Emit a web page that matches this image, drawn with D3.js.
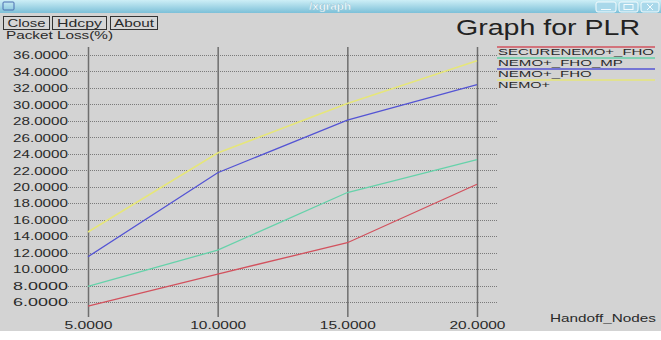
<!DOCTYPE html>
<html>
<head>
<meta charset="utf-8">
<script src="https://cdn.jsdelivr.net/npm/d3@7"></script>
<style>
  html, body { margin: 0; padding: 0; background: #fff; }
  svg { display: block; font-family: "Liberation Sans", Arial, sans-serif; }
</style>
</head>
<body>
<svg id="chart" width="661" height="340"></svg>
<script>
// Data
const nodes = [5, 10, 15, 20];
const secureNemoFho = [5.5, 9.4, 13.2, 20.3];
const nemoFhoMp = [7.9, 12.3, 19.3, 23.3];
const nemoFho = [11.5, 21.7, 28.1, 32.4];
const nemoPlus = [14.5, 24.1, 30.1, 35.3];

const seriesNames = ["SECURENEMO+_FHO", "NEMO+_FHO_MP", "NEMO+_FHO", "NEMO+"];
const seriesValues = [secureNemoFho, nemoFhoMp, nemoFho, nemoPlus];
const seriesColors = ["#d2525e", "#66d2aa", "#5454d4", "#e6e67a"];

const yTicks = [6, 8, 10, 12, 14, 16, 18, 20, 22, 24, 26, 28, 30, 32, 34, 36];
const xTicks = [5, 10, 15, 20];

const svg = d3.select("#chart");

// window background
svg.append("rect").attr("width", 661).attr("height", 340).attr("fill", "#ffffff");
svg.append("rect").attr("width", 661).attr("height", 331).attr("fill", "#d3d3d3");

// title bar
const defs = svg.append("defs");
const grad = defs.append("linearGradient").attr("id", "tbar").attr("x1", 0).attr("y1", 0).attr("x2", 0).attr("y2", 1);
grad.append("stop").attr("offset", "0%").attr("stop-color", "#cdeef6");
grad.append("stop").attr("offset", "100%").attr("stop-color", "#7cc0d8");
svg.append("rect").attr("x", 0).attr("y", 0).attr("width", 661).attr("height", 13).attr("fill", "url(#tbar)");
svg.append("rect").attr("x", 3).attr("y", 2).attr("width", 11).attr("height", 8)
  .attr("rx", 1).attr("fill", "none").attr("stroke", "#4a6fb0").attr("stroke-width", 1);
svg.append("text").attr("x", 330).attr("y", 10).attr("text-anchor", "middle")
  .attr("font-size", 10).attr("font-weight", "bold").attr("fill", "#ffffff")
  .attr("stroke", "#8fc4d6").attr("stroke-width", 0.4)
  .attr("textLength", 42).attr("lengthAdjust", "spacingAndGlyphs").text("/xgraph");
[[596, 20], [619, 19], [641, 18]].forEach(([x, w], i) => {
  svg.append("rect").attr("x", x).attr("y", 2).attr("width", w).attr("height", 10).attr("rx", 2)
    .attr("fill", "#a9d8ea").attr("stroke", "#f4fbfd").attr("stroke-width", 1);
  if (i === 0) svg.append("line").attr("x1", x + 5).attr("x2", x + w - 5).attr("y1", 9.5).attr("y2", 9.5).attr("stroke", "#f4fbfd");
  if (i === 1) svg.append("rect").attr("x", x + 5).attr("y", 4.5).attr("width", w - 10).attr("height", 5).attr("fill", "none").attr("stroke", "#f4fbfd");
  if (i === 2) {
    svg.append("line").attr("x1", x + 6).attr("x2", x + w - 6).attr("y1", 4).attr("y2", 10).attr("stroke", "#f4fbfd");
    svg.append("line").attr("x1", x + w - 6).attr("x2", x + 6).attr("y1", 4).attr("y2", 10).attr("stroke", "#f4fbfd");
  }
});

// buttons
const buttons = [
  { label: "Close", x: 3, w: 46, tl: 38 },
  { label: "Hdcpy", x: 52, w: 54, tl: 45 },
  { label: "About", x: 110, w: 47, tl: 40 },
];
buttons.forEach(b => {
  svg.append("rect").attr("x", b.x + 0.5).attr("y", 16.5).attr("width", b.w).attr("height", 13)
    .attr("fill", "#d6d6d6").attr("stroke", "#333").attr("stroke-width", 1);
  svg.append("text").attr("x", b.x + b.w / 2 + 0.5).attr("y", 27).attr("text-anchor", "middle")
    .attr("font-size", 10.5).attr("fill", "#2a2a2a")
    .attr("textLength", b.tl).attr("lengthAdjust", "spacingAndGlyphs").text(b.label);
});

// titles
svg.append("text").attr("x", 456).attr("y", 35).attr("font-size", 22).attr("fill", "#222")
  .attr("textLength", 184).attr("lengthAdjust", "spacingAndGlyphs").text("Graph for PLR");
svg.append("text").attr("x", 6).attr("y", 39).attr("font-size", 10.5).attr("fill", "#2a2a2a")
  .attr("textLength", 107).attr("lengthAdjust", "spacingAndGlyphs").text("Packet Loss(%)");
svg.append("text").attr("x", 550).attr("y", 322).attr("font-size", 10.5).attr("fill", "#2a2a2a")
  .attr("textLength", 106).attr("lengthAdjust", "spacingAndGlyphs").text("Handoff_Nodes");

// scales
const xScale = d3.scaleLinear().domain([5, 20]).range([88, 477]);
const yScale = d3.scaleLinear().domain([6, 36]).range([302, 55]);
const gridLeft = 68, gridRight = 497, gridTop = 47, gridBottom = 317;

const fmt = d3.format(".4f");

// horizontal dotted grid + y labels
const yAxis = d3.axisLeft(yScale).tickValues(yTicks).tickSize(-(gridRight - gridLeft)).tickFormat(fmt).tickPadding(0);
const gy = svg.append("g").attr("transform", `translate(${gridLeft},0)`).call(yAxis);
gy.select(".domain").remove();
gy.selectAll(".tick line").attr("stroke", "#7a7a7a").attr("stroke-dasharray", "1 1").attr("shape-rendering", "crispEdges");
gy.selectAll(".tick text").attr("x", 0).attr("dy", "0.36em").attr("font-size", 10.5).attr("fill", "#2a2a2a")
  .attr("font-family", "Liberation Sans, Arial, sans-serif")
  .attr("textLength", 55).attr("lengthAdjust", "spacingAndGlyphs");

// vertical solid grid + x labels
const xAxis = d3.axisBottom(xScale).tickValues(xTicks).tickSize(-(gridBottom - gridTop)).tickFormat(fmt).tickPadding(0);
const gx = svg.append("g").attr("transform", `translate(0,${gridBottom})`).call(xAxis);
gx.select(".domain").remove();
gx.selectAll(".tick line").attr("stroke", "#6e6e6e").attr("stroke-width", 1.5);
gx.selectAll(".tick text").attr("y", 12).attr("dy", 0).attr("font-size", 10.5).attr("fill", "#2a2a2a")
  .attr("font-family", "Liberation Sans, Arial, sans-serif")
  .attr("textLength", d => fmt(d).length * 8).attr("lengthAdjust", "spacingAndGlyphs");

// data lines
const line = d3.line().x((d, i) => xScale(nodes[i])).y(d => yScale(d));
seriesValues.forEach((vals, i) => {
  svg.append("path").datum(vals).attr("d", line)
    .attr("fill", "none").attr("stroke", seriesColors[i]).attr("stroke-width", i === 3 ? 1.6 : 1.3);
});

// legend: line above each name
const legendY = [47, 58, 69, 80];
seriesNames.forEach((name, i) => {
  svg.append("text").attr("x", 498).attr("y", legendY[i] + 7.5).attr("font-size", 9.5).attr("fill", "#2a2a2a")
    .attr("textLength", name.length * 10.4).attr("lengthAdjust", "spacingAndGlyphs").text(name);
  svg.append("line").attr("x1", 497).attr("x2", 655).attr("y1", legendY[i]).attr("y2", legendY[i])
    .attr("stroke", seriesColors[i]).attr("stroke-width", 1.5);
});
</script>
</body>
</html>
